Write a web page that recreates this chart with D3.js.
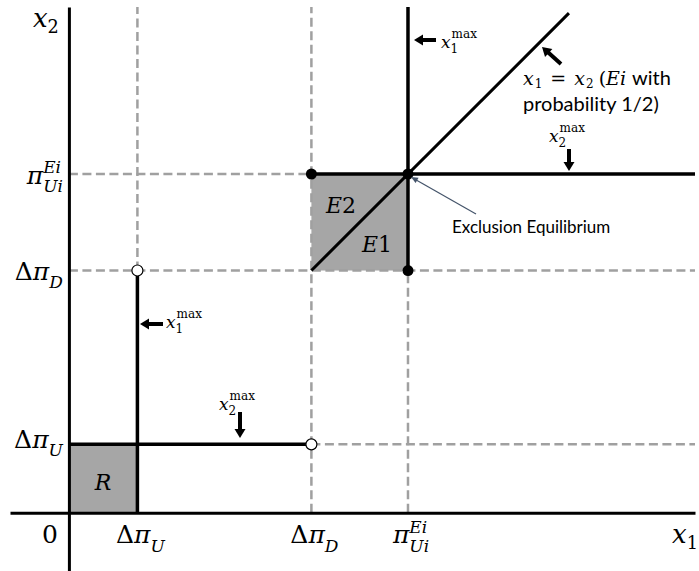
<!DOCTYPE html>
<html>
<head>
<meta charset="utf-8">
<script src="https://cdn.jsdelivr.net/npm/d3@7"></script>
<style>
  html, body { margin: 0; padding: 0; background: #fff; }
  svg { display: block; }
</style>
</head>
<body>
<svg id="chart" width="699" height="571"></svg>
<script>
// ---- data (in economic units) ----
const dU = 1.0;      // Δπ_U
const dD = 3.54;     // Δπ_D
const piU = 4.95;    // π_Ui^Ei
const diagEnd = 7.3; // end of the x1 = x2 line
const xDomain = [-0.86, 9.14];
const yDomain = [-0.85, 7.39];

// tick positions and labels
const xTickVals = [0, dU, dD, piU];
const yTickVals = [piU, dD, dU];
const xTickLabels = [
  [{t: '0'}],
  [{t: 'Δ'}, {t: 'π', i: 1}, {sub: {t: 'U', i: 1}}],
  [{t: 'Δ'}, {t: 'π', i: 1}, {sub: {t: 'D', i: 1}}],
  [{t: 'π', i: 1}, {sub: {t: 'Ui', i: 1}, sup: {t: 'Ei', i: 1}}]
];
const yTickLabels = [
  [{t: 'π', i: 1}, {sub: {t: 'Ui', i: 1}, sup: {t: 'Ei', i: 1}}],
  [{t: 'Δ'}, {t: 'π', i: 1}, {sub: {t: 'D', i: 1}}],
  [{t: 'Δ'}, {t: 'π', i: 1}, {sub: {t: 'U', i: 1}}]
];

// regions
const regions = [
  {name: 'R', x0: 0, x1: dU, y0: 0, y1: dU},
  {name: 'E', x0: dD, x1: piU, y0: dD, y1: piU}
];
// dashed guide lines
const guides = [
  [[dU, dD], [dU, yDomain[1]]],
  [[dD, 0], [dD, yDomain[1]]],
  [[piU, 0], [piU, dD]],
  [[0, piU], [dD, piU]],
  [[0, dD], [xDomain[1], dD]],
  [[dD, dU], [xDomain[1], dU]]
];
// thick best-response lines
const thick = [
  [[dU, 0], [dU, dD]],
  [[0, dU], [dD, dU]],
  [[dD, piU], [xDomain[1], piU]],
  [[piU, dD], [piU, yDomain[1]]]
];
const diagonal = [[dD, dD], [diagEnd, diagEnd]];
const filledDots = [[dD, piU], [piU, piU], [piU, dD]];
const openDots = [[dU, dD], [dD, dU]];

// ---- drawing ----
const svg = d3.select('#chart');
const x = d3.scaleLinear().domain(xDomain).range([10, 695]);
const y = d3.scaleLinear().domain(yDomain).range([571, 7]);
const line = d3.line().x(d => x(d[0])).y(d => y(d[1]));

const MATH = "'DejaVu Serif', serif";
const SANS = "Lato, 'Open Sans', sans-serif";

function label(parent, px, py, tokens, opt) {
  const size = opt.size, small = opt.small || size * 0.68;
  const subDy = opt.subDy !== undefined ? opt.subDy : size * 0.33;
  const supDy = opt.supDy !== undefined ? opt.supDy : -size * 0.45;
  const g = parent.append('g');
  let cx = 0;
  function put(tk, xx, yy, fs) {
    const el = g.append('text').attr('x', xx).attr('y', yy)
      .style('font-family', tk.s ? SANS : MATH)
      .style('font-style', tk.i ? 'italic' : 'normal')
      .style('font-size', (tk.fs || fs) + 'px')
      .attr('fill', '#000')
      .text(tk.t);
    return el.node().getComputedTextLength();
  }
  tokens.forEach(tk => {
    if (tk.t !== undefined) {
      cx += put(tk, cx, 0, size) + (tk.dx || 0);
    } else {
      let w = 0;
      if (tk.sup) w = Math.max(w, put(tk.sup, cx + (tk.supX || 0), supDy, small));
      if (tk.sub) w = Math.max(w, put(tk.sub, cx, subDy, small));
      cx += w + (tk.dx || 0);
    }
  });
  const off = opt.anchor === 'middle' ? -cx / 2 : opt.anchor === 'end' ? -cx : 0;
  g.attr('transform', `translate(${px + off},${py})`);
  return g;
}

function arrow(x1, y1, x2, y2, w, headL, headW, color) {
  const dx = x2 - x1, dy = y2 - y1, L = Math.hypot(dx, dy);
  const ux = dx / L, uy = dy / L;
  const bx = x2 - ux * headL, by = y2 - uy * headL;
  svg.append('line').attr('x1', x1).attr('y1', y1).attr('x2', bx + ux).attr('y2', by + uy)
    .attr('stroke', color).attr('stroke-width', w);
  svg.append('path')
    .attr('d', `M${x2},${y2}L${bx - uy * headW / 2},${by + ux * headW / 2}L${bx + uy * headW / 2},${by - ux * headW / 2}Z`)
    .attr('fill', color);
}

// regions
svg.selectAll('rect.region').data(regions).enter().append('rect')
  .attr('class', 'region')
  .attr('x', d => x(d.x0)).attr('y', d => y(d.y1))
  .attr('width', d => x(d.x1) - x(d.x0)).attr('height', d => y(d.y0) - y(d.y1))
  .attr('fill', '#a6a6a6');

// dashed guides
svg.selectAll('path.guide').data(guides).enter().append('path')
  .attr('class', 'guide').attr('d', line)
  .attr('fill', 'none').attr('stroke', '#a0a0a0').attr('stroke-width', 2.5)
  .attr('stroke-dasharray', '9,4.5');

// axes
const xAxis = svg.append('g').attr('transform', `translate(0,${y(0)})`)
  .call(d3.axisBottom(x).tickValues([]).tickSizeOuter(0));
const yAxis = svg.append('g').attr('transform', `translate(${x(0)},0)`)
  .call(d3.axisLeft(y).tickValues([]).tickSizeOuter(0));
[xAxis, yAxis].forEach(a => a.select('.domain').attr('stroke', '#000').attr('stroke-width', 3));

// thick lines
svg.selectAll('path.thick').data(thick).enter().append('path')
  .attr('class', 'thick').attr('d', line)
  .attr('fill', 'none').attr('stroke', '#000').attr('stroke-width', 3.5);
svg.append('path').datum(diagonal).attr('d', line)
  .attr('fill', 'none').attr('stroke', '#000').attr('stroke-width', 3);

// dots
svg.selectAll('circle.filled').data(filledDots).enter().append('circle')
  .attr('cx', d => x(d[0])).attr('cy', d => y(d[1])).attr('r', 5.5).attr('fill', '#000');
svg.selectAll('circle.open').data(openDots).enter().append('circle')
  .attr('cx', d => x(d[0])).attr('cy', d => y(d[1])).attr('r', 5.5)
  .attr('fill', '#fff').attr('stroke', '#000').attr('stroke-width', 1.2);

// axis labels
xTickVals.forEach((v, k) => {
  label(svg, x(v) + (k === 0 ? -19 : 3), y(0) + 30, xTickLabels[k], {size: 25, anchor: 'middle', subDy: 9, supDy: -9.5});
});
const yOff = [10, 9, 4];
yTickVals.forEach((v, k) => {
  label(svg, x(0) - 6, y(v) + yOff[k], yTickLabels[k], {size: 25, anchor: 'end', subDy: 8, supDy: -11});
});
label(svg, x(0) - 36, 27, [{t: 'x', i: 1}, {sub: {t: '2'}}], {size: 26, subDy: 6});
label(svg, x(xDomain[1]) - 23, y(0) + 30, [{t: 'x', i: 1}, {sub: {t: '1'}}], {size: 26, subDy: 6});

// region labels
label(svg, (x(0) + x(dU)) / 2, 490, [{t: 'R', i: 1}], {size: 22, anchor: 'middle'});
label(svg, 326, 213, [{t: 'E', i: 1}, {t: '2'}], {size: 22});
label(svg, 362, 252, [{t: 'E', i: 1}, {t: '1'}], {size: 22});

// x^max annotations
const maxOpt = {size: 17, small: 12, subDy: 5, supDy: -10};
label(svg, 166, 328, [{t: 'x', i: 1}, {sub: {t: '1'}, sup: {t: 'max'}, supX: 1}], maxOpt);
arrow(163, 324, 140, 324, 4, 9, 11, '#000');
label(svg, 441, 48, [{t: 'x', i: 1}, {sub: {t: '1'}, sup: {t: 'max'}, supX: 1}], maxOpt);
arrow(436, 40, 414, 40, 4, 9, 11, '#000');
label(svg, 219, 410, [{t: 'x', i: 1}, {sub: {t: '2'}, sup: {t: 'max'}, supX: 1}], maxOpt);
arrow(240, 412, 240, 438, 4, 9, 11, '#000');
label(svg, 549, 142, [{t: 'x', i: 1}, {sub: {t: '2'}, sup: {t: 'max'}, supX: 1}], maxOpt);
arrow(569, 149, 569, 171, 4, 9, 11, '#000');

// diagonal annotation
arrow(561, 64, 542, 47, 4, 9, 11, '#000');
label(svg, 523, 85, [
  {t: 'x', i: 1, dx: 1}, {sub: {t: '1'}, dx: 8},
  {t: '=', dx: 8},
  {t: 'x', i: 1, dx: 1}, {sub: {t: '2'}, dx: 5},
  {t: '('}, {t: 'E', i: 1}, {t: 'i', i: 1, dx: 6},
  {t: 'with', s: 1, fs: 20}
], {size: 19, small: 12, subDy: 3});
label(svg, 523, 111, [{t: 'probability 1/2)', s: 1, fs: 20}], {size: 20});

// Exclusion Equilibrium
arrow(476, 214, 411, 177, 1.2, 7, 6, '#44546a');
label(svg, 452, 233, [{t: 'Exclusion Equilibrium', s: 1, fs: 17}], {size: 17});
</script>
</body>
</html>
